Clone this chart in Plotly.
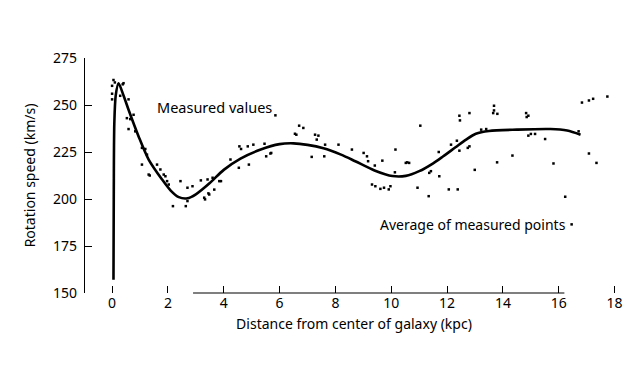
import plotly.graph_objects as go

# Average curve (kpc, km/s)
curve_x = [0.05, 0.06, 0.08, 0.13, 0.23, 0.40, 0.59, 0.95, 1.31, 1.79, 2.10, 2.39, 2.70, 3.00, 3.50,
           4.00, 4.60, 5.30, 6.00, 6.50, 7.00, 7.57, 8.20, 8.71, 9.40, 10.04, 10.52, 11.00, 11.50,
           11.85, 12.30, 12.68, 13.03, 13.50, 14.50, 15.70, 16.30, 16.78]
curve_y = [157, 200, 240, 255, 261.6, 255.5, 247.5, 233.3, 221.0, 210.4, 204.5, 201.0, 200.4, 202.5, 208.5,
           215.5, 221.5, 226.2, 229.2, 229.6, 228.8, 227.0, 223.6, 220.1, 215.2, 212.2, 212.3, 214.8, 219.0,
           222.6, 227.5, 231.6, 234.7, 236.2, 236.9, 237.2, 236.4, 234.2]

# Measured points (kpc, km/s)
pts_x = [0.05, 0.00, 0.41, 0.00, 0.00, 0.29, 0.59, 0.53, 0.59, 0.77, 0.83, 1.07, 1.19, 1.31, 1.61,
         1.73, 1.91, 1.97, 2.45, 2.70, 2.88, 2.18, 2.64, 3.30, 0.10, 0.38, 0.65, 1.25, 1.07, 1.35,
         1.85, 2.03, 2.70, 3.48, 3.66, 3.90, 3.60, 3.18, 3.42, 3.33, 3.45, 3.84, 4.24, 4.54, 4.56,
         4.86, 4.90, 5.06, 5.46, 5.52, 5.67, 6.55, 6.60, 6.70, 6.85, 7.15, 7.27, 7.33, 7.63, 4.62,
         5.70, 7.39, 7.60, 8.11, 8.59, 9.01, 9.13, 9.17, 9.41, 9.68, 10.15, 10.13, 9.31, 9.43, 9.61,
         9.74, 9.97, 9.91, 10.94, 10.64, 10.57, 11.04, 11.34, 11.36, 11.42, 11.70, 12.14, 12.35, 12.44,
         12.74, 12.80, 12.44, 12.46, 12.80, 12.99, 12.06, 12.38, 13.22, 13.40, 13.68, 13.68, 13.65,
         13.80, 13.79, 14.34, 14.83, 14.91, 14.85, 14.91, 15.00, 15.15, 15.51, 15.81, 16.71, 17.08,
         17.35, 16.83, 17.08, 17.23, 16.23, 17.74, 16.46, 5.85, 11.72, 10.52]
pts_y = [263.3, 260.2, 261.6, 256.0, 253.0, 254.9, 253.0, 243.0, 237.2, 244.8, 236.0, 227.2, 226.6, 213.0, 218.3,
         215.7, 212.1, 209.5, 209.5, 206.0, 206.8, 196.2, 196.2, 200.7, 262.0, 261.0, 242.5, 223.6, 218.3, 212.5,
         213.0, 207.7, 198.9, 202.4, 205.0, 209.5, 211.3, 209.9, 210.4, 199.8, 203.0, 209.5, 221.0, 216.6, 228.0,
         228.0, 218.3, 228.9, 229.4, 222.7, 224.2, 234.7, 234.2, 239.0, 237.8, 222.4, 234.2, 231.6, 228.9, 226.6,
         224.5, 233.7, 222.7, 228.9, 226.3, 224.5, 222.7, 220.1, 217.8, 220.4, 226.3, 214.2, 207.7, 206.8, 205.4,
         206.0, 206.8, 205.1, 206.0, 219.2, 219.5, 239.0, 201.5, 213.9, 214.8, 225.0, 228.9, 231.0, 225.7,
         227.2, 228.0, 244.3, 241.8, 245.7, 215.5, 205.1, 205.1, 236.9, 237.2, 249.6, 247.1, 245.7,
         245.3, 219.5, 223.1, 245.7, 244.3, 243.6, 233.7, 234.6, 234.6, 231.9, 218.9, 236.0, 224.2,
         219.2, 251.3, 252.4, 253.3, 201.2, 254.5, 186.5, 244.5, 212.1, 219.2]

x_ticks = [0, 2, 4, 6, 8, 10, 12, 14, 16, 18]
y_ticks = [150, 175, 200, 225, 250, 275]

FONT = "Noto Sans"

fig = go.Figure()
fig.add_trace(go.Scatter(x=pts_x, y=pts_y, mode="markers",
                         marker=dict(color="black", size=2.5, symbol="square"),
                         hoverinfo="skip", showlegend=False))
fig.add_trace(go.Scatter(x=curve_x, y=curve_y, mode="lines",
                         line=dict(color="black", width=2.6, shape="spline", smoothing=0.8),
                         showlegend=False))

fig.add_shape(type="line", xref="x", yref="paper", x0=2.9, x1=16.2, y0=0, y1=0,
              line=dict(color="black", width=1.2))

fig.add_annotation(x=1.55, y=249, xref="x", yref="y", text="Measured values",
                   showarrow=False, xanchor="left", font=dict(family=FONT, size=14.5, color="black"))
fig.add_annotation(x=9.53, y=186.5, xref="x", yref="y", text="Average of measured points",
                   showarrow=False, xanchor="left", font=dict(family=FONT, size=14, color="black"))

fig.update_layout(
    width=640, height=392,
    margin=dict(l=77, r=25, t=50, b=107),
    paper_bgcolor="white", plot_bgcolor="white",
    font=dict(family=FONT, size=14, color="black"),
    xaxis=dict(range=[-0.97, 18.3], tickvals=x_ticks, ticks="inside", ticklen=7, tickwidth=1.2,
               tickcolor="black", showline=False, showgrid=False, zeroline=False, automargin=False,
               tickfont=dict(size=14),
               title=dict(text="Distance from center of galaxy (kpc)", standoff=8,
                          font=dict(family=FONT, size=14))),
    yaxis=dict(range=[150, 275], tickvals=y_ticks, ticks="inside", ticklen=7, tickwidth=1.2,
               tickcolor="black", showline=True, linecolor="black", linewidth=1.2,
               showgrid=False, zeroline=False, automargin=False, tickfont=dict(size=14),
               ticklabelstandoff=4,
               title=dict(text="Rotation speed (km/s)", standoff=14,
                          font=dict(family=FONT, size=14))),
)

fig.write_html("out.html")
